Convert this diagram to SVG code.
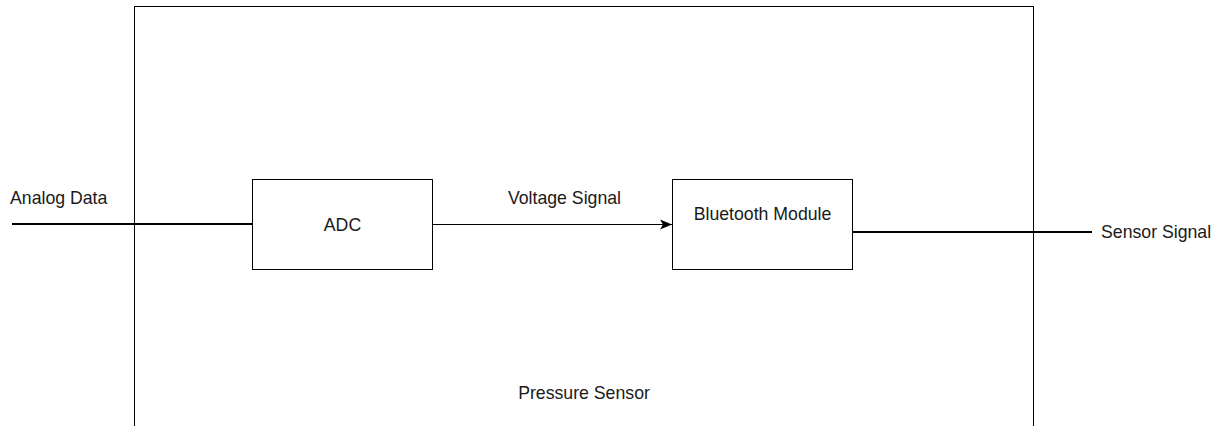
<svg xmlns="http://www.w3.org/2000/svg" width="1218" height="426" viewBox="0 0 1218 426">
<style>
.box{fill:#fff;stroke:#000;stroke-width:1}
.t{font-family:"Liberation Sans",Arial,sans-serif;font-size:17.7px;fill:#1a1a1a}
.thick{stroke:#000;stroke-width:2;fill:none}
.thin{stroke:#000;stroke-width:1;fill:none}
</style>
<defs>
<marker id="arr" markerWidth="14" markerHeight="12" refX="12" refY="6" orient="auto" markerUnits="userSpaceOnUse">
<path d="M0,1 L12,6 L0,11 L3,6 Z" fill="#000"/>
</marker>
</defs>
<g id="pressure-sensor">
<rect class="box" x="134.5" y="6.5" width="899" height="440"/>
<text class="t" x="584" y="399" text-anchor="middle">Pressure Sensor</text>
</g>
<g id="connectors">
<line class="thick" x1="12" y1="224" x2="252.5" y2="224"/>
<line class="thin" x1="432.5" y1="224.5" x2="672" y2="224.5" marker-end="url(#arr)"/>
<line class="thick" x1="852.5" y1="232" x2="1092" y2="232"/>
</g>
<g id="adc">
<rect class="box" x="252.5" y="179.5" width="180" height="90"/>
<text class="t" x="342.5" y="231" text-anchor="middle">ADC</text>
</g>
<g id="bluetooth-module">
<rect class="box" x="672.5" y="179.5" width="180" height="90"/>
<text class="t" x="762.5" y="219.5" text-anchor="middle">Bluetooth Module</text>
</g>
<g id="labels">
<text class="t" x="10" y="203.5">Analog Data</text>
<text class="t" x="564.5" y="204" text-anchor="middle">Voltage Signal</text>
<text class="t" x="1101" y="237.7">Sensor Signal</text>
</g>
</svg>
